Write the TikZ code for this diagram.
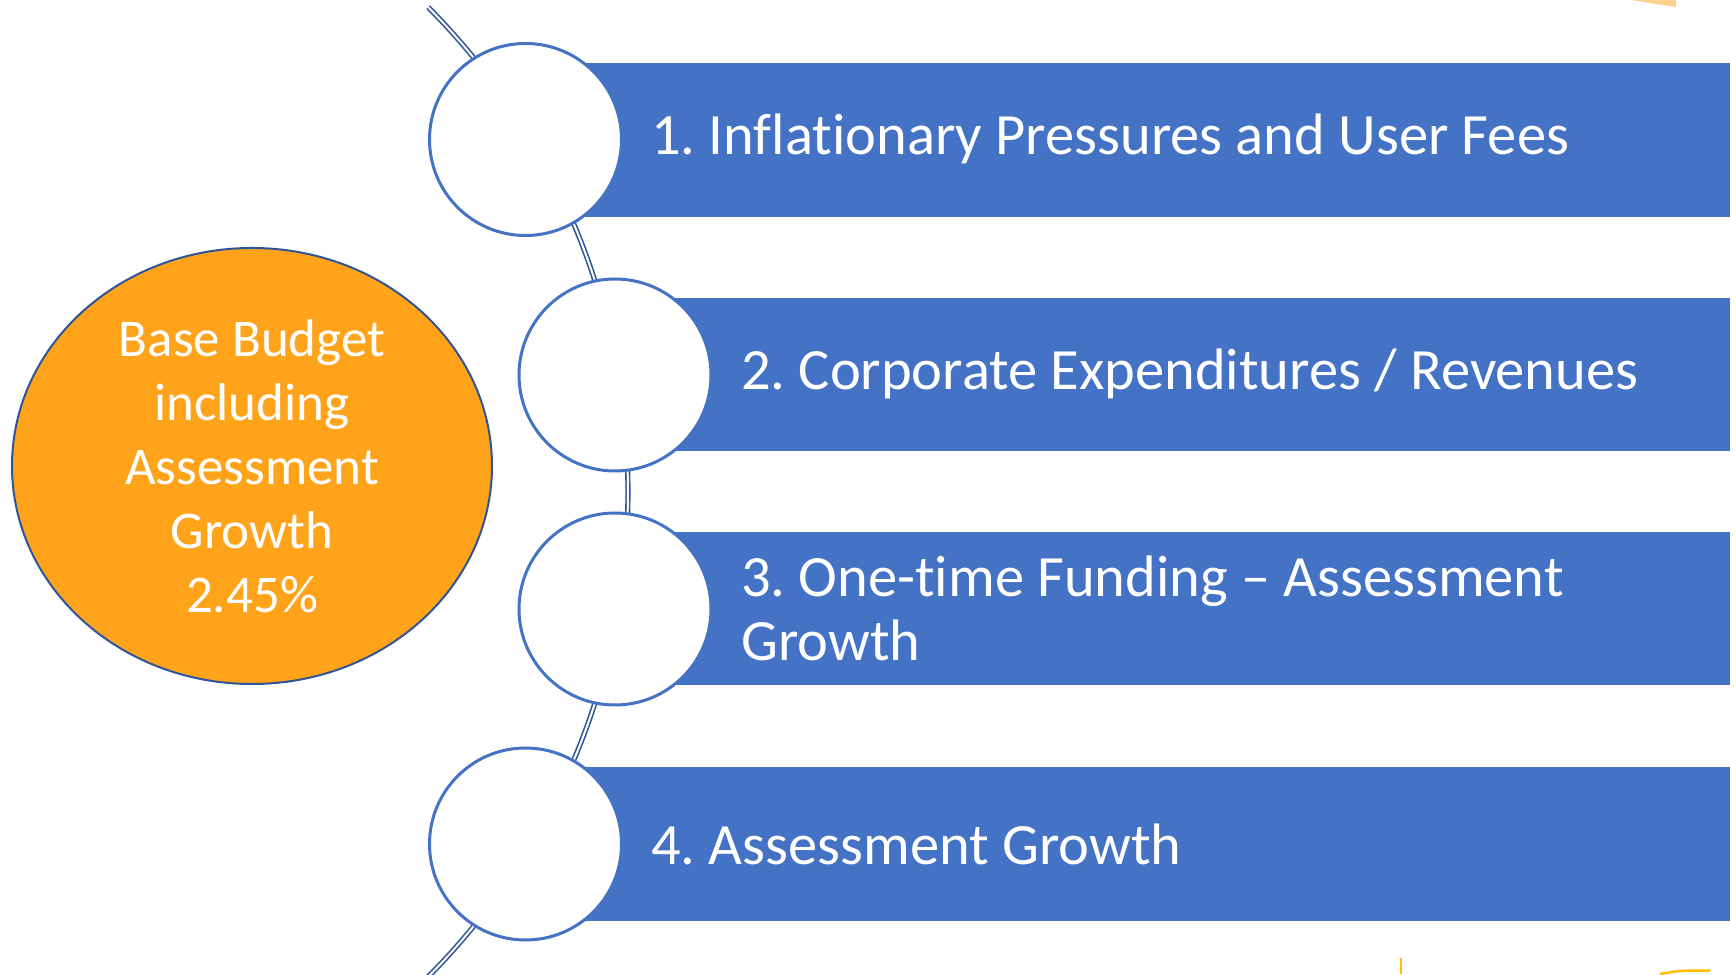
\documentclass[tikz,border=0pt]{standalone}
\usepackage{fontspec}
\setmainfont{Carlito}[Ligatures=NoCommon]
\usetikzlibrary{shapes.geometric,calc}
\definecolor{boxblue}{HTML}{4472C4}
\definecolor{darkblue}{HTML}{2F5597}
\definecolor{budgetorange}{HTML}{FFA31B}
\definecolor{paleorange}{HTML}{F9D38E}
\definecolor{goldline}{HTML}{FFC000}
\begin{document}
\frenchspacing
\begin{tikzpicture}[x=1pt,y=1pt,
  bar/.style={fill=boxblue, draw=none},
  disc/.style={circle, draw=boxblue, line width=3pt, fill=white, minimum size=192pt, inner sep=0pt},
  itemtext/.style={anchor=west, text=white, font=\fontsize{58.5}{64}\selectfont, align=left, inner sep=0pt},
  budget/.style={ellipse, draw=darkblue, line width=2pt, fill=budgetorange, minimum width=480pt, minimum height=436pt, inner sep=0pt, text=white, align=center, font=\fontsize{53}{64}\selectfont},
  timeline/.style={draw=darkblue, double=white, double distance=2pt, line width=1.6pt}
]
\clip (0,0) rectangle (1736,974);
\fill[white] (0,0) rectangle (1736,974);
% timeline arc
\coordinate (arccenter) at (-60,482);
\coordinate (arctop) at ($(arccenter)+(44.8:688)$);
\draw[timeline] (arctop) arc[start angle=44.8, end angle=-44.8, radius=688pt] coordinate (arcbottom);
% bars
\fill[bar] (525.5,757) rectangle (1730,911);
\fill[bar] (615,523) rectangle (1730,676);
\fill[bar] (615,289) rectangle (1730,442);
\fill[bar] (525.5,53) rectangle (1730,207);
% circles
\node[disc] (c1) at (525.5,834.5) {};
\node[disc] (c2) at (615,599) {};
\node[disc] (c3) at (615,365) {};
\node[disc] (c4) at (525.5,130) {};
% texts
\node[itemtext] (t1) at (651,835) {1. Inflationary Pressures and User Fees};
\node[itemtext] (t2) at (741,600) {2. Corporate Expenditures / Revenues};
\node[itemtext] (t3) at (741,366) {3. One-time Funding -- Assessment\\Growth};
\node[itemtext] (t4) at (651,130) {4. Assessment Growth};
% budget ellipse
\node[budget] (base) at (252,508) {Base Budget\\including\\Assessment\\Growth\\2.45\%};
% fragments at edges
\fill[paleorange] (1632,974) .. controls (1650,971) .. (1676,967) -- (1676,974) -- cycle;
\draw[goldline, line width=2pt] (1401,0) -- (1401,16);
\draw[goldline, line width=2.5pt] (1660,0) .. controls (1680,3.5) .. (1710,3.5);
\end{tikzpicture}
\end{document}
